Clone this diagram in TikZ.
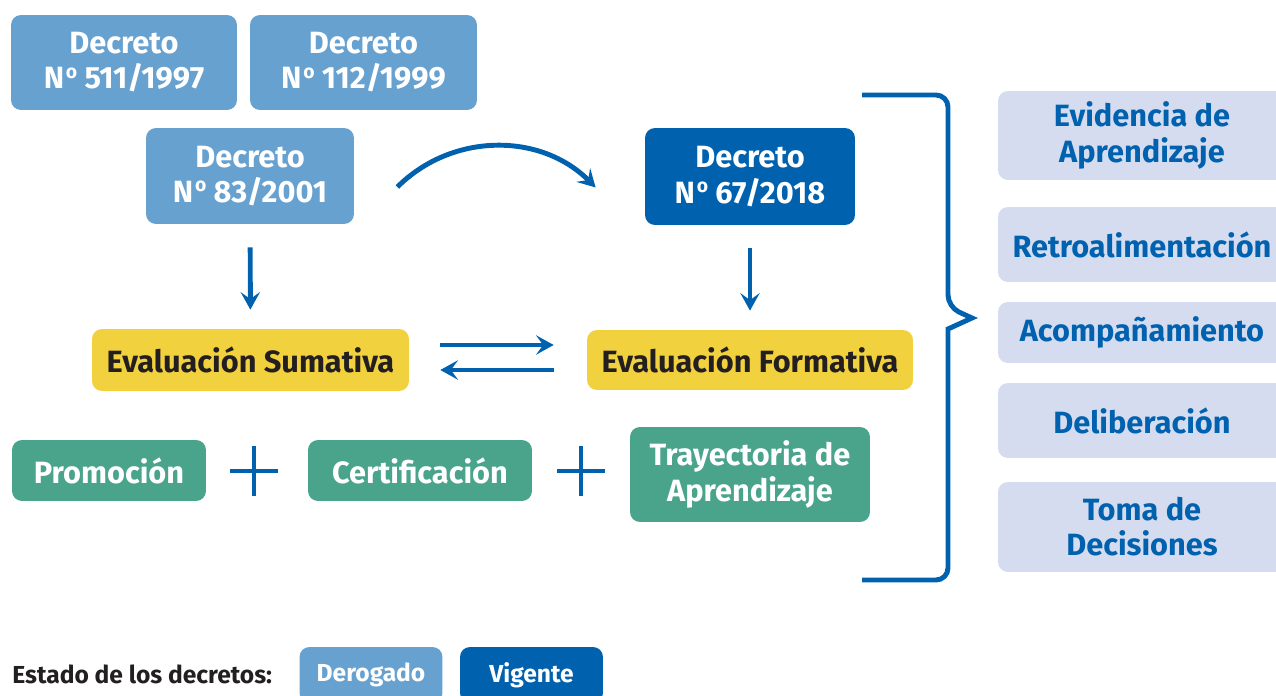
\documentclass[tikz,border=0pt]{standalone}
\usepackage{fontspec}
\setmainfont{Fira Sans}
\usetikzlibrary{arrows.meta}

\definecolor{azulclaro}{RGB}{103,161,208}
\definecolor{azulosc}{RGB}{0,98,175}
\definecolor{amarillo}{RGB}{242,209,62}
\definecolor{verde}{RGB}{74,164,140}
\definecolor{lavanda}{RGB}{213,220,240}
\definecolor{negro}{RGB}{35,31,32}

\newcommand{\numero}{N\kern1pt\raisebox{6.2pt}{\fontsize{11}{11}\selectfont o}}

\begin{document}
\begin{tikzpicture}[x = 0.02cm, y = -0.02cm, >={Stealth[length = 10pt, width = 11pt, inset = 4pt]}]
    \useasboundingbox (0, 0) rectangle (1276, 696);
    \clip (0, 0) rectangle (1276, 696);

    \tikzstyle{caja} = [rounded corners = 0.2cm, align = center, inner sep = 0pt, font = \bfseries\fontsize{17.5}{20}\selectfont]
    \tikzstyle{derog} = [caja, fill = azulclaro, text = white]
    \tikzstyle{vigente} = [caja, fill = azulosc, text = white]
    \tikzstyle{evalua} = [caja, fill = amarillo, text = negro]
    \tikzstyle{efecto} = [caja, fill = verde, text = white]
    \tikzstyle{proceso} = [caja, fill = lavanda, text = azulosc, minimum width = 5.76cm]
    \tikzstyle{flecha} = [draw = azulosc, line width = 2.8pt]
    \tikzstyle{leyenda} = [minimum width = 2.86cm, minimum height = 1.12cm, font = \bfseries\fontsize{14}{16}\selectfont]

    \node[derog, minimum width = 4.52cm, minimum height = 1.9cm] (d511) at (124, 62.5) {Decreto\\\numero{} 511/1997};
    \node[derog, minimum width = 4.54cm, minimum height = 1.9cm] (d112) at (363.5, 62.5) {Decreto\\\numero{} 112/1999};
    \node[derog, minimum width = 4.16cm, minimum height = 1.92cm] (d83) at (250, 176) {Decreto\\\numero{} 83/2001};
    \node[vigente, minimum width = 4.2cm, minimum height = 1.94cm] (d67) at (750, 176.5) {Decreto\\\numero{} 67/2018};

    \node[evalua, minimum width = 6.34cm, minimum height = 1.24cm] (sum) at (250.5, 360) {Evaluación Sumativa};
    \node[evalua, minimum width = 6.52cm, minimum height = 1.2cm] (form) at (750, 360) {Evaluación Formativa};

    \node[efecto, minimum width = 3.88cm, minimum height = 1.22cm] (prom) at (109, 470.5) {Promoción};
    \node[efecto, minimum width = 4.48cm, minimum height = 1.22cm] (cert) at (420, 470.5) {Certificación};
    \node[efecto, minimum width = 4.8cm, minimum height = 1.9cm] (tray) at (750, 474.5) {Trayectoria de\\Aprendizaje};

    \node[proceso, minimum height = 1.78cm] (evid) at (1142, 135.5) {Evidencia de\\Aprendizaje};
    \node[proceso, minimum height = 1.5cm] (retro) at (1142, 244.5) {Retroalimentación};
    \node[proceso, minimum height = 1.22cm] (acomp) at (1142, 332.5) {Acompañamiento};
    \node[proceso, minimum height = 1.5cm] (delib) at (1142, 420.5) {Deliberación};
    \node[proceso, minimum height = 1.8cm] (toma) at (1142, 527) {Toma de\\Decisiones};

    \draw[->, flecha] ([shift = {(43, 11)}]d83.east) to[bend left = 45] ([shift = {(-49, 11)}]d67.west);
    \draw[->, flecha, shorten <= 0.46cm, shorten >= 0.38cm] (d83) -- (sum);
    \draw[->, flecha, shorten <= 0.46cm, shorten >= 0.38cm] (d67) -- (form);
    \draw[->, flecha] ([shift = {(31, -15)}]sum.east) -- ([shift = {(-33, -15)}]form.west);
    \draw[->, flecha] ([shift = {(-33, 10)}]form.west) -- ([shift = {(31, 10)}]sum.east);

    \coordinate (masA) at (254, 471);
    \coordinate (masB) at (581, 471);
    \draw[flecha] (masA) ++(-24, 0) -- ++(48, 0) (masA) ++(0, -25) -- ++(0, 50);
    \draw[flecha] (masB) ++(-24, 0) -- ++(48, 0) (masB) ++(0, -25) -- ++(0, 50);

    \draw[flecha, rounded corners = 0.24cm] (862, 95) -- (948, 95) -- (948, 307)
        [sharp corners] -- (972, 318) -- (948, 329)
        [rounded corners = 0.24cm] -- (948, 580) -- (862, 580);

    \node[anchor = west, inner sep = 0pt, text = negro, font = \bfseries\fontsize{14}{16}\selectfont] (estado) at (12, 674) {Estado de los decretos:};
    \node[derog, leyenda] (derogado) at (371, 675) {Derogado};
    \node[vigente, leyenda] (vig) at (531.5, 675) {Vigente};
\end{tikzpicture}
\end{document}
